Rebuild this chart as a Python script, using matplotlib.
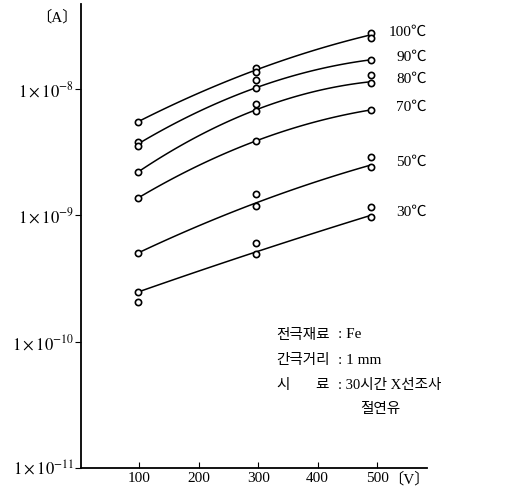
import numpy as np
import matplotlib.pyplot as plt

plt.rcParams['font.family'] = ['Liberation Serif', 'Noto Sans CJK KR']
plt.rcParams['mathtext.fontset'] = 'stix'

temps = ['100℃', '90℃', '80℃', '70℃', '50℃', '30℃']
volts = [98, 296, 490]

# measured points (A) at each voltage, one list per temperature
pts_100 = [[5.5e-9], [3.8e-9, 3.55e-9], [2.2e-9], [1.37e-9], [5.0e-10], [2.47e-10, 2.06e-10]]
pts_300 = [[1.47e-8, 1.36e-8], [1.18e-8, 1.02e-8], [7.6e-9, 6.7e-9], [3.87e-9],
           [1.48e-9, 1.19e-9], [6.0e-10, 4.9e-10]]
pts_500 = [[2.77e-8, 2.54e-8], [1.7e-8], [1.29e-8, 1.12e-8], [6.8e-9],
           [2.9e-9, 2.41e-9], [1.16e-9, 9.7e-10]]

# values the hand-drawn curves pass through
curves = [[5.5e-9, 1.41e-8, 2.68e-8],
          [3.67e-9, 1.02e-8, 1.70e-8],
          [2.2e-9, 6.82e-9, 1.14e-8],
          [1.37e-9, 3.87e-9, 6.82e-9],
          [5.03e-10, 1.25e-9, 2.5e-9],
          [2.47e-10, 5.12e-10, 1.0e-9]]

yticks = [1e-11, 1e-10, 1e-9, 1e-8]
ytick_labels = [r'$1\times10^{-11}$', r'$1\times10^{-10}$', r'$1\times10^{-9}$', r'$1\times10^{-8}$']
xticks = [100, 200, 300, 400, 500]
xtick_labels = ['100', '200', '300', '400', '500']

fig = plt.figure(figsize=(5.11, 4.90), dpi=100)
ax = fig.add_axes([0.1585, 0.0449, 0.677, 0.947])

for i in range(len(temps)):
    # smooth curve through the three read values (quadratic in log space)
    c = np.polyfit(volts, np.log10(curves[i]), 2)
    xs = np.linspace(volts[0], volts[-1], 100)
    ax.plot(xs, 10 ** np.polyval(c, xs), color='black', lw=1.1)
    for x, vals in zip(volts, [pts_100[i], pts_300[i], pts_500[i]]):
        ax.plot([x] * len(vals), vals, 'o', ms=4.5, mfc='white', mec='black', mew=1.2, ls='none')
    ax.text(1.0, curves[i][-1] * 1.05, temps[i], transform=ax.get_yaxis_transform(),
            ha='right', va='center', fontsize=11)

ax.set_yscale('log')
ax.set_ylim(1e-11, 4.7e-8)
ax.set_xlim(2, 584)
ax.set_yticks(yticks)
ax.set_yticklabels(ytick_labels, fontsize=12)
ax.yaxis.set_minor_locator(plt.NullLocator())
ax.set_xticks(xticks)
ax.set_xticklabels(xtick_labels, fontsize=11)
ax.tick_params(axis='y', direction='out', length=4, pad=1)
ax.tick_params(axis='x', direction='in', length=4, pad=3)
ax.spines['top'].set_visible(False)
ax.spines['right'].set_visible(False)
ax.spines['left'].set_linewidth(1.3)
ax.spines['bottom'].set_linewidth(1.3)

def px(x, y):
    return x / 511, 1 - y / 490

fig.text(*px(36, 17), '〔A〕', fontsize=11, va='center')
fig.text(*px(388, 479), '〔V〕', fontsize=11, va='center')

# note block
fs = 10.5
fig.text(*px(276, 335), '전극재료', fontsize=fs, va='center')
fig.text(*px(276, 360), '간극거리', fontsize=fs, va='center')
fig.text(*px(276, 385), '시', fontsize=fs, va='center')
fig.text(*px(315, 385), '료', fontsize=fs, va='center')
fig.text(*px(338, 335), ': Fe', fontsize=11, va='center')
fig.text(*px(338, 360), ': 1 mm', fontsize=11, va='center')
fig.text(*px(338, 385), ': 30시간 X선조사', fontsize=10.5, va='center')
fig.text(*px(360, 409), '절연유', fontsize=fs, va='center')

fig.savefig('out.png', dpi=100)
